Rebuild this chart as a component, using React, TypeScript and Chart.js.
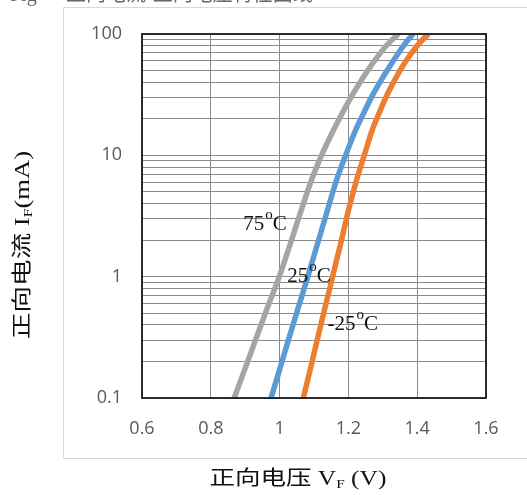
import React, { useEffect, useRef } from "react";
import { Chart, registerables } from "chart.js";
Chart.register(...registerables);

// ---- data ----
const currents = [0.1, 0.15, 0.29, 0.54, 1, 1.9, 3.6, 6.3, 10, 16.4, 22.5, 30.9, 42.5, 58, 80, 100];
const volts75 = [0.868, 0.891, 0.928, 0.963, 0.999, 1.032, 1.064, 1.093, 1.122, 1.158, 1.183, 1.21, 1.24, 1.272, 1.31, 1.345];
const volts25 = [0.975, 0.994, 1.024, 1.053, 1.082, 1.111, 1.14, 1.166, 1.192, 1.222, 1.245, 1.269, 1.297, 1.327, 1.36, 1.388];
const voltsM25 = [1.069, 1.084, 1.108, 1.131, 1.154, 1.178, 1.201, 1.224, 1.246, 1.27, 1.29, 1.311, 1.336, 1.364, 1.4, 1.432];
const seriesNames = ["75°C", "25°C", "-25°C"];
const seriesColors = ["#A5A5A5", "#5B9BD5", "#ED7D31"];

const xTicks = [0.6, 0.8, 1, 1.2, 1.4, 1.6];
const xTickLabels = ["0.6", "0.8", "1", "1.2", "1.4", "1.6"];
const yDecades = [0.1, 1, 10];
const yMajorTicks = [0.1, 1, 10, 100];
const yTickLabels = ["0.1", "1", "10", "100"];
const minorSteps = [1, 2, 3, 4, 5, 6, 7, 8, 9];

// curve label anchors (data coordinates)
const labelNums = ["75", "25", "-25"];
const labelV = [0.894, 1.022, 1.139];
const labelI = [2.42, 0.904, 0.363];

const titleText = "正向电流-正向电压特性曲线";
const yTitleMain = "正向电流 I";
const yTitleSub = "F";
const yTitleEnd = "(mA)";
const xTitleMain = "正向电压 V";
const xTitleSub = "F";
const xTitleEnd = " (V)";

const SERIF = '"Liberation Serif", "Noto Sans CJK SC", serif';
const TICKFONT = '"Open Sans", "Noto Sans", sans-serif';

function buildYTicks() {
  const t: number[] = [];
  yDecades.forEach((d) => minorSteps.forEach((m) => t.push(+(d * m).toPrecision(3))));
  t.push(100);
  return t;
}

// draws "main" + subscript + "end", centred on (0,0) and stretched to targetLen
function drawSubText(ctx: CanvasRenderingContext2D, main: string, sub: string, end: string, size: number, targetLen: number) {
  const subSize = Math.round(size * 0.62);
  ctx.font = `${size}px ${SERIF}`;
  const w1 = ctx.measureText(main).width;
  ctx.font = `${subSize}px ${SERIF}`;
  const w2 = ctx.measureText(sub).width;
  ctx.font = `${size}px ${SERIF}`;
  const w3 = ctx.measureText(end).width;
  const total = w1 + w2 + w3;
  const f = targetLen / total;
  ctx.save();
  ctx.scale(f, 1);
  let cx = -total / 2;
  ctx.textAlign = "left";
  ctx.textBaseline = "alphabetic";
  ctx.fillText(main, cx, 0);
  cx += w1;
  ctx.font = `${subSize}px ${SERIF}`;
  ctx.fillText(sub, cx, 3);
  cx += w2;
  ctx.font = `${size}px ${SERIF}`;
  ctx.fillText(end, cx, 0);
  ctx.restore();
}

const decorPlugin = {
  id: "decor",
  beforeDraw(chart: any) {
    const ctx = chart.ctx as CanvasRenderingContext2D;
    ctx.save();
    ctx.fillStyle = "#ffffff";
    ctx.fillRect(0, 0, chart.width, chart.height);
    // outer frame
    ctx.strokeStyle = "#d9d9d9";
    ctx.lineWidth = 1;
    ctx.strokeRect(63.5, 7.5, 500, 451);
    // cut-off title
    ctx.fillStyle = "#666";
    ctx.font = `20px ${SERIF}`;
    ctx.textBaseline = "alphabetic";
    ctx.textAlign = "left";
    ctx.fillText("Fig", 10, 1);
    ctx.fillText(titleText, 66, 1);
    ctx.restore();
  },
  afterDraw(chart: any) {
    const ctx = chart.ctx as CanvasRenderingContext2D;
    const a = chart.chartArea;
    const xs = chart.scales.x;
    const ys = chart.scales.y;
    ctx.save();
    // plot border
    ctx.strokeStyle = "#1a1a1a";
    ctx.lineWidth = 1.8;
    ctx.strokeRect(a.left, a.top, a.right - a.left, a.bottom - a.top);
    // curve labels
    ctx.fillStyle = "#111";
    ctx.textAlign = "left";
    ctx.textBaseline = "alphabetic";
    labelNums.forEach((n, i) => {
      const px = xs.getPixelForValue(labelV[i]);
      const py = ys.getPixelForValue(labelI[i]);
      ctx.font = `21px ${SERIF}`;
      ctx.fillText(n, px, py);
      let cx = px + ctx.measureText(n).width + 1;
      ctx.font = `15px ${SERIF}`;
      ctx.fillText("o", cx, py - 11);
      cx += ctx.measureText("o").width;
      ctx.font = `21px ${SERIF}`;
      ctx.fillText("C", cx, py);
    });
    // axis titles
    ctx.fillStyle = "#111";
    ctx.save();
    ctx.translate(298, 485);
    drawSubText(ctx, xTitleMain, xTitleSub, xTitleEnd, 20, 177);
    ctx.restore();
    ctx.save();
    ctx.translate(29, 245);
    ctx.rotate(-Math.PI / 2);
    drawSubText(ctx, yTitleMain, yTitleSub, yTitleEnd, 20, 188);
    ctx.restore();
    ctx.restore();
  },
};

export default function App() {
  const ref = useRef<HTMLCanvasElement>(null);
  useEffect(() => {
    document.body.style.margin = "0";
    const mk = (v: number[]) => currents.map((c, i) => ({ x: v[i], y: c }));
    const allV = [volts75, volts25, voltsM25];
    const yTicks = buildYTicks();
    const chart = new Chart(ref.current!, {
      type: "line",
      data: {
        datasets: allV.map((v, i) => ({
          label: seriesNames[i],
          data: mk(v),
          borderColor: seriesColors[i],
          backgroundColor: seriesColors[i],
          borderWidth: 5.5,
          pointRadius: 0,
          cubicInterpolationMode: "monotone" as const,
          borderCapStyle: "butt" as const,
          fill: false,
        })),
      },
      options: {
        animation: false,
        responsive: false,
        devicePixelRatio: 1,
        layout: { padding: { left: 0, top: 34, right: 41, bottom: 0 } },
        plugins: { legend: { display: false }, tooltip: { enabled: false }, title: { display: false } },
        scales: {
          x: {
            type: "linear",
            min: 0.6,
            max: 1.6,
            afterBuildTicks: (s: any) => {
              s.ticks = xTicks.map((v) => ({ value: v }));
            },
            afterFit: (s: any) => {
              s.height = 97;
            },
            ticks: {
              padding: 20,
              color: "#595959",
              font: { family: TICKFONT, size: 18 },
              maxRotation: 0,
              callback: (v: any) => {
                const i = xTicks.findIndex((t) => Math.abs(t - v) < 1e-6);
                return i >= 0 ? xTickLabels[i] : "";
              },
            },
            grid: { color: "#8a8a8a", lineWidth: 1, drawTicks: false },
            border: { display: false },
          },
          y: {
            type: "logarithmic",
            min: 0.1,
            max: 100,
            afterBuildTicks: (s: any) => {
              s.ticks = yTicks.map((v) => ({ value: v }));
            },
            afterFit: (s: any) => {
              s.width = 142;
            },
            ticks: {
              padding: 20,
              color: "#595959",
              font: { family: TICKFONT, size: 18 },
              autoSkip: false,
              callback: (v: any) => {
                const i = yMajorTicks.findIndex((t) => Math.abs(t - v) / t < 1e-6);
                return i >= 0 ? yTickLabels[i] : "";
              },
            },
            grid: { color: "#8a8a8a", lineWidth: 1, drawTicks: false },
            border: { display: false },
          },
        },
      },
      plugins: [decorPlugin],
    });
    return () => chart.destroy();
  }, []);
  return (
    <canvas
      ref={ref}
      width={527}
      height={495}
      style={{ position: "absolute", left: 0, top: 0, width: 527, height: 495 }}
    />
  );
}
